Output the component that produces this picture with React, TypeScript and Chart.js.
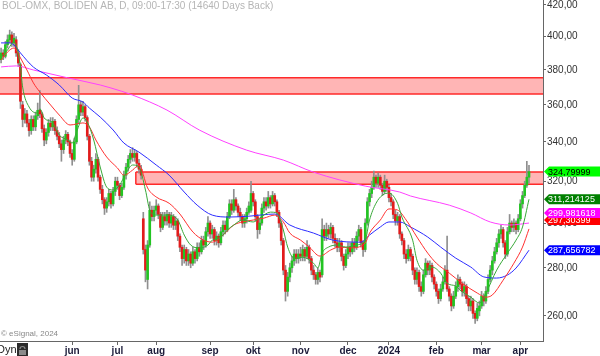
import React, { useEffect, useRef } from 'react';
import { Chart, registerables } from 'chart.js';

Chart.register(...registerables);

// ---- Daily candles (BOLIDEN AB), oldest first ----
const opens = [
  386,390,388,395,398,401,396,398,390,383,
  360,352,355,350,346,352,348,354,357,355,
  347,341,345,350,348,351,346,343,339,336,
  341,344,340,334,331,340,352,360,356,359,
  353,343,330,322,326,331,322,316,311,307,
  310,314,309,315,320,318,313,317,323,327,
  331,334,332,334,329,326,302,288,275,290,
  306,303,306,308,304,298,303,301,304,300,
  303,299,301,294,289,284,288,283,286,282,
  287,284,289,287,292,290,296,300,295,297,
  292,294,291,296,299,297,303,309,306,311,
  308,305,303,300,302,305,306,314,310,303,
  297,300,307,310,308,312,309,313,310,305,
  300,292,279,270,276,280,283,286,284,286,
  285,288,285,289,284,279,277,275,278,277,
  297,294,297,295,298,293,291,289,291,285,
  281,286,289,287,291,289,294,297,291,288,
  300,310,314,317,322,319,322,318,315,320,
  317,312,310,304,301,303,295,292,286,284,
  288,285,279,275,278,272,270,277,282,279,
  281,276,273,270,267,271,274,279,271,268,
  264,268,272,275,273,270,272,267,264,266,
  261,259,262,264,268,266,270,275,279,283,
  287,291,295,297,291,286,296,300,298,300,
  297,302,309,313,318,322,
];
const closes = [
  390,388,395,398,401,396,399,390,384,362,
  352,355,350,346,352,348,354,357,355,347,
  341,345,350,348,351,346,343,339,336,341,
  344,340,334,331,340,352,360,356,359,353,
  343,330,322,326,331,322,316,311,307,310,
  314,309,315,320,318,313,317,323,327,331,
  334,332,334,329,326,323,288,279,290,306,
  303,306,308,304,298,303,301,304,300,303,
  299,301,294,289,284,288,283,286,282,287,
  284,289,287,292,290,296,300,295,297,292,
  294,291,296,299,297,303,309,306,311,308,
  305,303,300,302,305,308,314,310,303,297,
  300,307,310,308,312,309,313,310,305,300,
  292,279,270,276,280,283,286,284,286,285,
  288,285,289,284,279,277,275,278,276,297,
  294,297,295,298,293,291,289,291,285,281,
  286,289,287,291,289,294,297,291,288,300,
  310,314,317,322,319,322,318,315,320,317,
  312,310,304,301,303,295,292,286,284,288,
  285,279,275,278,272,270,277,282,279,281,
  276,273,270,267,271,274,279,271,268,264,
  268,272,275,273,270,272,267,264,266,261,
  259,263,264,268,266,270,275,279,283,287,
  291,295,297,291,286,296,300,298,300,297,
  302,309,313,318,322,324.8,
];
const highs = [
  393,392,397,401,404,403,402,400,392,384,
  362,358,357,352,354,354,356,361,368,356,
  349,347,352,353,353,352,348,345,341,343,
  346,345,341,336,342,354,371,362,362,360,
  354,344,332,328,334,332,323,318,312,312,
  316,315,317,322,322,319,319,325,329,333,
  336,337,336,335,331,328,305,290,292,310,
  308,308,311,309,305,305,305,306,305,305,
  304,303,302,295,290,290,289,288,287,289,
  288,291,291,294,294,298,303,301,299,298,
  296,295,298,301,301,305,311,311,316,312,
  309,307,304,304,307,310,320,315,311,304,
  302,309,312,312,315,313,315,314,311,306,
  301,293,281,278,282,285,288,288,288,289,
  290,289,292,290,285,281,278,280,279,302,
  299,300,299,300,299,295,293,293,292,286,
  288,291,291,293,293,296,299,298,292,302,
  312,316,320,325,323,324,323,319,323,321,
  318,314,311,306,305,304,296,293,288,290,
  289,286,280,280,279,274,279,284,283,283,
  282,277,274,271,273,276,281,294,272,269,
  270,274,277,276,274,274,273,268,268,267,
  262,265,266,270,269,272,277,281,285,289,
  293,297,299,298,292,298,304,301,302,301,
  304,311,315,320,330,328,
];
const lows = [
  384,386,387,393,396,394,394,388,382,358,
  348,350,348,343,344,346,346,352,353,345,
  338,339,343,346,346,344,341,337,330,334,
  339,338,332,328,330,339,350,354,354,351,
  341,328,320,320,324,320,314,309,304,305,
  308,307,308,313,316,311,312,316,321,325,
  329,330,330,327,324,321,286,274,271,289,
  301,301,304,302,296,297,299,299,298,298,
  297,297,292,287,281,282,281,281,280,281,
  282,283,285,286,288,289,294,293,293,290,
  290,289,290,294,295,296,302,304,305,306,
  303,301,298,298,300,304,305,308,301,293,
  295,299,305,306,307,307,308,308,303,298,
  290,277,266,268,274,278,281,282,282,283,
  283,283,284,282,277,275,273,273,274,276,
  292,292,293,293,291,289,287,287,283,279,
  280,284,285,286,287,288,292,289,285,287,
  299,308,312,316,317,317,316,313,314,315,
  310,308,302,299,299,293,290,284,282,283,
  283,277,273,273,270,268,269,276,277,277,
  274,271,268,265,266,270,273,270,266,262,
  263,267,270,271,268,268,265,262,262,259,
  257,258,260,263,264,265,269,274,277,282,
  286,289,293,289,284,285,295,296,296,295,
  296,301,307,312,317,319,
];

// ---- Moving averages (sampled at trading-day index) ----
const fastDays = [0,3,6,7,9,10,13,17,18,20,24,27,31,33,35,38,40,43,46,49,52,55,58,61,64,67,69,72,77,82,85,88,92,96,98,102,105,108,112,117,120,125,128,131,133,136,140,145,147,149,152,156,160,165,169,171,174,177,180,184,186,191,193,196,200,204,207,211,213,218,222,225,230,235,239,242,245];
const fastVals = [387.6,391.8,396.7,394.8,381.6,370.0,358.8,355.5,357.8,352.8,350.1,343.6,341.0,339.4,345.2,352.8,350.6,341.0,327.1,317.1,315.7,318.1,324.0,328.1,327.1,315.7,306.1,303.7,303.7,301.4,294.5,290.0,288.7,290.0,292.2,293.6,296.8,299.1,301.4,300.5,302.3,305.1,304.7,296.8,289.1,284.2,284.6,282.0,279.9,286.4,289.1,290.0,289.1,290.0,292.2,301.4,309.3,313.2,314.2,309.3,302.8,292.2,283.3,279.0,280.3,277.7,273.4,272.2,270.5,267.6,265.2,269.3,279.0,286.4,292.2,298.2,311.2];
const midDays = [0,3,6,7,9,12,15,18,23,27,32,38,41,44,49,54,57,61,64,68,72,78,83,89,94,98,103,108,112,117,122,127,131,134,139,143,148,153,157,162,169,171,176,180,184,188,193,198,202,208,214,221,225,228,233,238,242,245];
const midVals = [385.8,390.6,393.0,391.8,387.0,379.9,372.4,367.2,359.9,354.4,349.0,350.1,347.9,341.0,332.2,326.6,323.0,325.5,328.1,316.7,312.3,309.3,304.2,295.9,292.2,291.3,294.5,299.1,300.5,301.4,302.3,303.7,300.5,295.4,292.2,289.1,285.1,287.8,289.1,288.7,290.9,295.4,301.4,306.6,306.1,301.4,293.6,286.4,282.0,277.7,273.4,269.3,267.6,268.5,274.7,282.0,289.1,297.3];
const slowDays = [0,4,6,9,15,21,27,33,38,41,46,52,57,64,72,78,85,91,98,106,115,127,134,145,154,167,171,176,180,185,190,198,204,211,218,224,230,235,239,245];
const slowVals = [396.1,396.1,394.8,390.0,381.6,377.0,371.2,363.8,361.6,358.2,353.3,346.3,339.4,334.7,328.1,323.0,314.7,308.4,303.7,302.8,303.2,304.2,299.1,295.4,292.2,291.3,294.5,298.2,300.5,300.5,298.2,293.6,289.1,284.2,280.3,276.1,275.6,276.9,279.9,287.7];
const longDays = [0,7,15,31,46,51,61,77,92,114,131,145,169,185,190,208,218,227,236,245];
const longVals = [381.7,382.3,379.9,375.3,371.2,369.5,365.5,357.1,346.3,335.7,330.6,324.5,317.6,314.7,312.8,308.4,304.7,300.5,299.1,300.0];

// ---- Resistance zones ----
const zoneLows = [366.1, 318.5];
const zoneHighs = [375.3, 324.6];
const zoneStartDays = [0, 63];

// ---- Axes ----
const monthNames = ['jun','jul','aug','sep','okt','nov','dec','2024','feb','mar','apr'];
const monthDays = [33,54,72,97,117,139,161,180,202,223,241];
const yTicks = [260,280,300,320,340,360,380,400,420];
const totalSlots = 252;

// ---- Last-value tags ----
const tagValues = [287.656782, 297.30399, 299.981618, 311.214125, 324.79999];
const tagTexts = ['287,656782', '297,30399', '299,981618', '311,214125', '324,79999'];

const FONT = '"Liberation Sans", Arial, sans-serif';

export default function App() {
  const ref = useRef<HTMLCanvasElement>(null);

  useEffect(() => {
    if (!ref.current) return;
    const labels = Array.from({ length: totalSlots }, (_, i) => String(i));
    const wickData = lows.map((l, i) => [l, highs[i]]);
    const bodyData = opens.map((o, i) => [Math.min(o, closes[i]), Math.max(o, closes[i])]);
    const bodyColors = opens.map((o, i) => (closes[i] >= o ? '#22c422' : '#e31b1b'));
    const sparse = (days: number[], vals: number[]) => {
      const a: (number | null)[] = new Array(totalSlots).fill(null);
      days.forEach((d, k) => { a[d] = vals[k]; });
      return a;
    };
    const tagBg = ['#0000ff', '#ff0000', '#ff00ff', '#008000', '#00ff00'];
    const tagFg = ['#ffffff', '#ffffff', '#ffffff', '#ffffff', '#000000'];
    const tagShift = [0, -9, -10, 0, 0];

    const overlay = {
      id: 'overlay',
      beforeDatasetsDraw(chart: any) {
        const { ctx, chartArea, scales } = chart;
        const ys = scales.y;
        const xs = scales.x;
        ctx.save();
        zoneLows.forEach((lo, k) => {
          const yTop = ys.getPixelForValue(zoneHighs[k]);
          const yBot = ys.getPixelForValue(lo);
          const x0 = zoneStartDays[k] === 0 ? chartArea.left : xs.getPixelForValue(zoneStartDays[k]) - 1;
          const x1 = chartArea.right;
          ctx.fillStyle = 'rgba(255,120,120,0.55)';
          ctx.fillRect(x0, yTop, x1 - x0, yBot - yTop);
          ctx.strokeStyle = '#ff2a2a';
          ctx.lineWidth = 1.5;
          ctx.beginPath();
          ctx.moveTo(x0, yTop); ctx.lineTo(x1, yTop);
          ctx.moveTo(x0, yBot); ctx.lineTo(x1, yBot);
          if (zoneStartDays[k] !== 0) { ctx.moveTo(x0, yTop); ctx.lineTo(x0, yBot); }
          ctx.stroke();
        });
        ctx.restore();
      },
      afterDraw(chart: any) {
        const { ctx, scales, chartArea } = chart;
        const ys = scales.y;
        ctx.save();
        // title
        ctx.font = `10px ${FONT}`;
        ctx.fillStyle = '#b5b5b5';
        ctx.textBaseline = 'middle';
        ctx.textAlign = 'left';
        ctx.fillText('BOL-OMX, BOLIDEN AB, D, 09:00-17:30 (14640 Days Back)', 2, 6);
        // copyright
        ctx.font = `8px ${FONT}`;
        ctx.fillStyle = '#888';
        ctx.fillText('© eSignal, 2024', 1, 334);
        // Dyn + lock
        ctx.font = `11px ${FONT}`;
        ctx.fillStyle = '#222';
        ctx.fillText('Dyn', -3, 350);
        ctx.fillStyle = '#2b2b2b';
        ctx.fillRect(17, 343, 11, 13);
        ctx.fillStyle = '#8a8a8a';
        ctx.fillRect(19, 350, 7, 5);
        ctx.strokeStyle = '#8a8a8a';
        ctx.lineWidth = 1.2;
        ctx.beginPath();
        ctx.arc(22.5, 349, 2.5, Math.PI, 0);
        ctx.stroke();
        // tags
        const ax = chartArea.right;
        ctx.font = `9px ${FONT}`;
        tagValues.forEach((v, k) => {
          const y = ys.getPixelForValue(v) + tagShift[k];
          ctx.fillStyle = tagBg[k];
          ctx.beginPath();
          ctx.moveTo(ax + 1, y);
          ctx.lineTo(ax + 6, y - 5);
          ctx.lineTo(600, y - 5);
          ctx.lineTo(600, y + 5);
          ctx.lineTo(ax + 6, y + 5);
          ctx.closePath();
          ctx.fill();
          ctx.fillStyle = tagFg[k];
          ctx.fillText(tagTexts[k], ax + 5, y + 0.5);
        });
        ctx.restore();
      },
    };

    const chart = new Chart(ref.current, {
      type: 'bar',
      data: {
        labels,
        datasets: [
          { type: 'line', data: sparse(fastDays, fastVals), borderColor: '#38a838', borderWidth: 1, pointRadius: 0, spanGaps: true, cubicInterpolationMode: 'monotone', order: 0 } as any,
          { type: 'line', data: sparse(midDays, midVals), borderColor: '#ff3030', borderWidth: 1, pointRadius: 0, spanGaps: true, cubicInterpolationMode: 'monotone', order: 0 } as any,
          { type: 'line', data: sparse(slowDays, slowVals), borderColor: '#2c2cff', borderWidth: 1, pointRadius: 0, spanGaps: true, cubicInterpolationMode: 'monotone', order: 0 } as any,
          { type: 'line', data: sparse(longDays, longVals), borderColor: '#ff40ff', borderWidth: 1, pointRadius: 0, spanGaps: true, cubicInterpolationMode: 'monotone', order: 0 } as any,
          { type: 'bar', data: bodyData, backgroundColor: bodyColors, barThickness: 2, grouped: false, order: 1, borderWidth: 0 } as any,
          { type: 'bar', data: wickData, backgroundColor: '#8f8f8f', barThickness: 1, grouped: false, order: 2, borderWidth: 0 } as any,
        ],
      },
      options: {
        responsive: false,
        animation: false,
        events: [],
        layout: { padding: 0 },
        plugins: { legend: { display: false }, tooltip: { enabled: false }, title: { display: false } },
        scales: {
          x: {
            type: 'category',
            offset: true,
            grid: {
              display: true,
              offset: false,
              drawOnChartArea: false,
              drawTicks: true,
              tickLength: 4,
              color: (c: any) => (monthDays.includes(c.index) ? '#666' : 'rgba(0,0,0,0)'),
            },
            border: { display: true, color: '#666' },
            ticks: {
              autoSkip: false,
              maxRotation: 0,
              minRotation: 0,
              padding: 0,
              color: '#1c1c3a',
              font: { size: 10, weight: 'bold', family: FONT },
              callback: (_v: any, i: number) => {
                const k = monthDays.indexOf(i);
                return k >= 0 ? monthNames[k] : '';
              },
            },
            afterFit: (s: any) => { s.height = 15; s.paddingLeft = 0; s.paddingRight = 0; },
          },
          y: {
            type: 'logarithmic',
            position: 'right',
            min: 250.1,
            max: 423.2,
            afterBuildTicks: (s: any) => { s.ticks = yTicks.map((v) => ({ value: v })); },
            grid: { drawOnChartArea: false, drawTicks: true, tickLength: 3, color: '#666' },
            border: { display: true, color: '#666' },
            ticks: {
              padding: 1,
              color: '#333',
              font: { size: 10, family: FONT },
              callback: (v: any) => Number(v).toFixed(2).replace('.', ','),
            },
            afterFit: (s: any) => { s.width = 57; s.paddingTop = 0; s.paddingBottom = 0; },
          },
        },
      } as any,
      plugins: [overlay],
    });
    return () => chart.destroy();
  }, []);

  return (
    <div style={{ position: 'fixed', left: 0, top: 0, width: 600, height: 356, background: '#fff' }}>
      <canvas ref={ref} width={600} height={356} style={{ display: 'block', width: 600, height: 356 }} />
    </div>
  );
}
